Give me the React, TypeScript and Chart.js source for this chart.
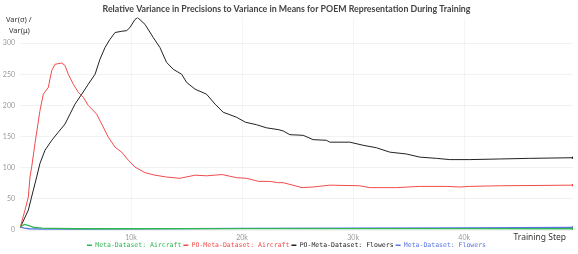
import React, { useEffect, useRef } from "react";
import { Chart, registerables } from "chart.js";

Chart.register(...registerables);

const TITLE = "Relative Variance in Precisions to Variance in Means for POEM Representation During Training";
const SERIES_NAMES = [
  "Meta-Dataset: Aircraft",
  "PO-Meta-Dataset: Aircraft",
  "PO-Meta-Dataset: Flowers",
  "Meta-Dataset: Flowers",
];
const SERIES_COLORS = ["#2fb552", "#f24b4b", "#222222", "#5a73e6"];

// steps in thousands
const greenSteps = [0, 0.4, 0.8, 1.3, 2, 3, 5, 10, 20, 30, 40, 49.8];
const greenValues = [5, 9, 7, 4, 3, 2.5, 2, 2, 2.3, 2.3, 2.2, 2];

const redSteps = [0, 0.45, 0.75, 0.9, 1.05, 1.35, 1.8, 2.1, 2.55, 2.86, 3.15, 3.76, 4.05, 4.35, 4.8, 5.25, 5.7, 6.15, 6.9, 7.36, 7.95, 8.56, 9.16, 9.76, 10.36, 11.26, 12.16, 13.2, 14.4, 15.77, 16.8, 18.2, 19.5, 20.4, 21.5, 22.5, 23.2, 23.7, 25.4, 26.4, 27.9, 30.6, 31.5, 33.9, 36.0, 38.4, 39.6, 40.5, 43.2, 49.8];
const redValues = [3, 32, 53, 85, 101, 139, 192, 218, 229, 256, 266, 268, 264, 250, 234, 221, 213, 200, 186, 170, 149, 133, 125, 112, 101, 92, 88, 85, 83, 88, 87, 89, 84, 83, 78, 78, 76, 76, 68, 69, 72, 71, 68, 68, 70, 70, 69, 70, 71, 72];

const blackSteps = [0, 0.75, 1.2, 1.5, 1.8, 2.25, 2.86, 3.45, 4.05, 4.5, 4.95, 5.56, 6.15, 6.76, 7.2, 7.66, 8.1, 8.56, 9.16, 9.6, 9.9, 10.36, 10.6, 11.26, 12.0, 12.6, 13.2, 13.8, 14.56, 15.0, 15.77, 16.8, 17.57, 18.3, 19.5, 20.3, 21.3, 22.2, 23.3, 23.7, 24.3, 25.5, 26.4, 27.6, 27.9, 29.7, 30.9, 32.1, 33.3, 34.8, 36.0, 37.5, 38.7, 40.5, 43.2, 45.9, 49.8];
const blackValues = [3, 32, 64, 85, 107, 128, 144, 157, 170, 186, 202, 218, 234, 250, 274, 293, 306, 317, 319, 320, 325, 338, 341, 330, 309, 293, 269, 258, 250, 237, 226, 218, 202, 189, 181, 173, 169, 164, 161, 159, 153, 152, 145, 144, 141, 141, 136, 132, 125, 122, 117, 115, 113, 113, 114, 115, 116];

const blueSteps = [0, 0.4, 0.8, 2, 5, 10, 20, 30, 40, 49.8];
const blueValues = [5, 3, 2, 1.5, 1.5, 1.8, 2.5, 3, 3.5, 4.2];

const Y_TICKS = [0, 50, 100, 150, 200, 250, 300];
const X_TICKS = [10, 20, 30, 40];

const toPoints = (xs: number[], ys: number[]) => xs.map((x, i) => ({ x, y: ys[i] }));

export default function App() {
  const ref = useRef<HTMLCanvasElement | null>(null);

  useEffect(() => {
    if (!ref.current) return;
    const allData = [
      toPoints(greenSteps, greenValues),
      toPoints(redSteps, redValues),
      toPoints(blackSteps, blackValues),
      toPoints(blueSteps, blueValues),
    ];
    const textPlugin = {
      id: "extraText",
      afterDraw(chart: any) {
        const { ctx, chartArea } = chart;
        ctx.save();
        ctx.fillStyle = "#333";
        ctx.font = "7.5px 'Noto Sans'";
        ctx.textBaseline = "middle";
        ctx.textAlign = "left";
        ctx.fillText("Var(σ) /", 6, 20);
        ctx.fillText("Var(μ)", 9, 31);
        ctx.font = "8.5px 'Noto Sans'";
        ctx.textAlign = "right";
        ctx.fillText("Training Step", chartArea.right - 7, chartArea.bottom + 8);
        ctx.restore();
      },
    };
    const chart = new Chart(ref.current, {
      type: "line",
      data: {
        datasets: allData.map((d, i) => ({
          label: SERIES_NAMES[i],
          data: d,
          borderColor: SERIES_COLORS[i],
          backgroundColor: SERIES_COLORS[i],
          borderWidth: i === 0 || i === 3 ? 1.3 : 1,
          pointRadius: (c: any) => (c.dataIndex === d.length - 1 ? 1.3 : 0),
          pointBorderWidth: 0,
          tension: 0,
        })),
      },
      options: {
        animation: false,
        responsive: false,
        layout: { padding: { left: 0, right: 5, top: 0, bottom: 0 } },
        plugins: {
          title: {
            display: true,
            text: TITLE,
            color: "#444",
            font: { family: "Lato", size: 8.8, weight: "bold" },
            padding: { top: 4, bottom: 3 },
          },
          legend: {
            position: "bottom",
            maxHeight: 14,
            labels: {
              font: { family: "DejaVu Sans Mono", size: 6.5 },
              boxWidth: 5,
              boxHeight: 1.5,
              padding: 2,
              generateLabels: (chart: any) =>
                chart.data.datasets.map((ds: any, i: number) => ({
                  text: ds.label,
                  fillStyle: SERIES_COLORS[i],
                  strokeStyle: SERIES_COLORS[i],
                  lineWidth: 0,
                  fontColor: SERIES_COLORS[i],
                  datasetIndex: i,
                  hidden: false,
                })),
            },
          },
          tooltip: { enabled: false },
        },
        scales: {
          x: {
            type: "linear",
            min: 0,
            max: 49.8,
            afterBuildTicks: (s: any) => {
              s.ticks = X_TICKS.map((v) => ({ value: v }));
            },
            afterFit: (s: any) => {
              s.height = 10;
            },
            ticks: {
              color: "#999",
              font: { family: "Lato", size: 7 },
              padding: 4,
              maxRotation: 0,
              callback: (v: any) => v + "k",
            },
            grid: { color: "rgba(0,0,0,0.04)", drawTicks: false },
            border: { display: false },
          },
          y: {
            min: 0,
            max: 341,
            afterBuildTicks: (s: any) => {
              s.ticks = Y_TICKS.map((v) => ({ value: v }));
            },
            afterFit: (s: any) => {
              s.width = 20;
            },
            ticks: {
              color: "#999",
              font: { family: "Lato", size: 7 },
              padding: 5,
            },
            grid: { color: "rgba(0,0,0,0.05)", drawTicks: false },
            border: { display: false },
          },
        },
      },
      plugins: [textPlugin],
    } as any);
    return () => chart.destroy();
  }, []);

  return (
    <div style={{ position: "fixed", left: 0, top: 0, width: 578, height: 254, background: "#fff" }}>
      <canvas ref={ref} width={578} height={254} style={{ width: 578, height: 254, display: "block" }} />
    </div>
  );
}
